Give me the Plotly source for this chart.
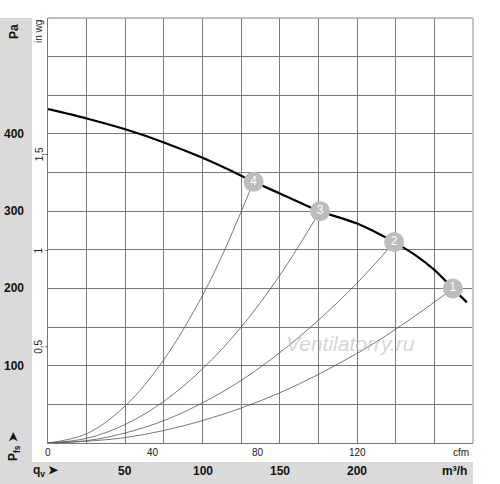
import plotly.graph_objects as go

# Fan curve (m³/h, Pa)
main_q = [0, 25, 50, 75, 100, 125, 133, 150, 176, 200, 224, 237, 250, 262, 271]
main_p = [432, 420, 406, 389, 369, 346, 338, 323, 300, 284, 260, 244, 224, 200, 182]

# System curves
sys4_q = [0, 25, 50, 75, 100, 115, 133]
sys4_p = [0, 12, 48, 108, 191, 253, 338]
sys3_q = [0, 25, 50, 75, 100, 125, 150, 176]
sys3_p = [0, 6, 24, 54, 96, 150, 217, 300]
sys2_q = [0, 25, 50, 75, 100, 125, 150, 175, 200, 224]
sys2_p = [0, 3, 13, 29, 52, 81, 117, 159, 207, 260]
sys1_q = [0, 50, 100, 150, 200, 230, 262]
sys1_p = [0, 7, 29, 65, 116, 154, 200]

# Operating points
op_q = [262, 224, 176, 133]
op_p = [200, 260, 300, 338]
op_labels = ["1", "2", "3", "4"]

# Tick labels
pa_ticks = [100, 200, 300, 400]
m3h_ticks = [50, 100, 150, 200]
cfm_labels = ["0", "40", "80", "120"]
cfm_pos_m3h = [0, 68, 136, 200]
inwg_labels = ["0,5", "1", "1,5"]
inwg_pos_pa = [124.5, 249, 373.6]

X_MAX, Y_MAX = 275, 550
L, R, T, B = 48, 27, 18, 41
W, H = 500, 484
PW, PH = W - L - R, H - T - B

def xp(px):
    return (px - L) / PW

def yp(py):
    return 1 - (py - T) / PH

fig = go.Figure()
for q, p in [(sys1_q, sys1_p), (sys2_q, sys2_p), (sys3_q, sys3_p), (sys4_q, sys4_p)]:
    fig.add_trace(go.Scatter(x=q, y=p, mode="lines", line=dict(color="#555555", width=0.8, shape="spline"),
                             hoverinfo="skip", showlegend=False))
fig.add_trace(go.Scatter(x=main_q, y=main_p, mode="lines", line=dict(color="#000000", width=2.2, shape="spline",
                                                                      smoothing=0.8),
                         showlegend=False))
fig.add_trace(go.Scatter(x=op_q, y=op_p, mode="markers+text", text=op_labels, textposition="middle center",
                         marker=dict(size=20, color="#bcbcbc", line=dict(width=0)),
                         textfont=dict(color="white", size=12, family="Arial, Liberation Sans"),
                         showlegend=False))

font_b = dict(family="Arial, Liberation Sans", size=12, color="#111111")
font_s = dict(family="Arial, Liberation Sans", size=10, color="#222222")
C = dict(xanchor="center", yanchor="middle", showarrow=False)
ann = []
for v in pa_ticks:
    ann.append(dict(x=xp(14), y=v, xref="paper", yref="y", text="<b>%d</b>" % v, font=font_b, **C))
for v in m3h_ticks:
    ann.append(dict(x=v, y=yp(471), xref="x", yref="paper", text="<b>%d</b>" % v, font=font_b, **C))
for lab, pos in zip(cfm_labels, cfm_pos_m3h):
    ann.append(dict(x=pos, y=yp(452), xref="x", yref="paper", text=lab, font=font_s, **C))
for lab, pos in zip(inwg_labels, inwg_pos_pa):
    ann.append(dict(x=xp(39), y=pos, xref="paper", yref="y", text=lab, textangle=-90,
                    font=dict(family="Arial, Liberation Sans", size=10, color="#222222"), **C))
ann += [
    dict(x=xp(14), y=yp(32), xref="paper", yref="paper", text="<b>Pa</b>", textangle=-90, font=font_b, **C),
    dict(x=xp(38), y=yp(32), xref="paper", yref="paper", text="in wg", textangle=-90,
         font=dict(family="Arial, Liberation Sans", size=10, color="#222222"), **C),
    dict(x=xp(14), y=yp(446), xref="paper", yref="paper", text="<b>P<sub>fs</sub> ➤</b>", textangle=-90,
         font=font_b, **C),
    dict(x=xp(46), y=yp(471), xref="paper", yref="paper", text="<b>q<sub>v</sub> ➤</b>", font=font_b, **C),
    dict(x=xp(454), y=yp(471), xref="paper", yref="paper", text="<b>m³/h</b>", font=font_b, **C),
    dict(x=xp(461), y=yp(452), xref="paper", yref="paper", text="cfm", font=font_s, **C),
    dict(x=xp(350), y=yp(343), xref="paper", yref="paper", text="<i>Ventilatorry.ru</i>",
         font=dict(family="Arial, Liberation Sans", size=21, color="rgba(185,185,185,0.6)"), **C),
]

shapes = [
    dict(type="rect", xref="paper", yref="paper", x0=xp(0), x1=xp(32), y0=yp(484), y1=yp(18),
         fillcolor="#dadada", line=dict(width=0), layer="below"),
    dict(type="rect", xref="paper", yref="paper", x0=xp(0), x1=xp(473), y0=yp(484), y1=yp(462),
         fillcolor="#dadada", line=dict(width=0), layer="below"),
    dict(type="line", xref="paper", yref="paper", x0=0, x1=1, y0=1, y1=1, line=dict(color="#aaaaaa", width=1.5)),
    dict(type="line", xref="paper", yref="paper", x0=1, x1=1, y0=0, y1=1, line=dict(color="#c4c4c4", width=2)),
]
for v in inwg_pos_pa:
    shapes.append(dict(type="line", xref="paper", yref="y", x0=xp(45.5), x1=0, y0=v, y1=v,
                       line=dict(color="#555555", width=1)))

fig.update_layout(
    width=W, height=H, margin=dict(l=L, r=R, t=T, b=B),
    paper_bgcolor="white", plot_bgcolor="white",
    xaxis=dict(range=[0, X_MAX], dtick=25, tick0=0, showgrid=True, gridcolor="#7a7a7a", gridwidth=1,
               showticklabels=False, ticks="", zeroline=False, showline=True, linecolor="#7a7a7a", linewidth=1),
    yaxis=dict(range=[0, Y_MAX], dtick=50, tick0=0, showgrid=True, gridcolor="#7a7a7a", gridwidth=1,
               showticklabels=False, ticks="", zeroline=False, showline=True, linecolor="#7a7a7a", linewidth=1),
    annotations=ann, shapes=shapes, showlegend=False,
)
fig.write_html("out.html", config={"displayModeBar": False},
               post_script="document.body.style.margin='0px';document.body.style.overflow='hidden';")
